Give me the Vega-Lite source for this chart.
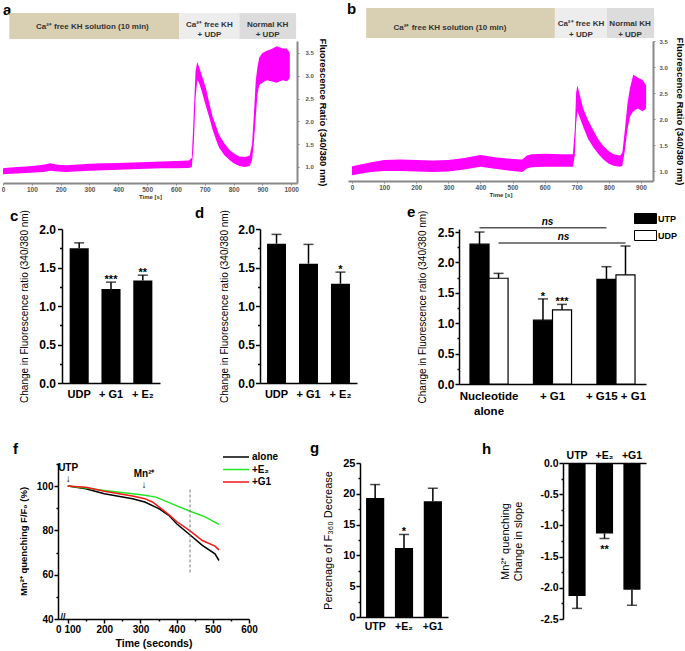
{
"$schema":"https://vega.github.io/schema/vega-lite/v6.json",
"background":"white",
"padding":{"top":2,"left":0,"right":0,"bottom":0},
"spacing":0,
"bounds":"full",
"resolve":{"scale":{"x":"independent","y":"independent","fill":"independent","stroke":"independent","xOffset":"independent"},"legend":{"fill":"independent","stroke":"independent"}},
"config":{"view":{"stroke":null},"font":"Liberation Sans","axis":{"grid":false,"labelFont":"Liberation Sans","titleFont":"Liberation Sans","domainColor":"black","tickColor":"black","labelColor":"black","titleColor":"black"},"legend":{"labelFont":"Liberation Sans"},"title":{"font":"Liberation Sans"}},
"vconcat":[
{"hconcat":[
{"width":3,"height":164,"title":{"text":"a","anchor":"start","frame":"group","orient":"top","offset":11,"dx":3,"baseline":"alphabetic","fontSize":15,"fontWeight":"bold","color":"black"},"data":{"values":[{}]},"mark":{"type":"point","opacity":0,"size":0.01},"encoding":{}},
{"width":294,"height":142,
 "layer":[
  {"data":{"values":[{"seg":"Ca-free","t0":22,"t1":611,"v0":3.807,"v1":4.377},{"seg":"Ca-free UDP","t0":611,"t1":820,"v0":3.807,"v1":4.377},{"seg":"Normal UDP","t0":820,"t1":1017,"v0":3.807,"v1":4.377}]},
   "mark":{"type":"rect"},
   "encoding":{
    "x":{"field":"t0","type":"quantitative","scale":{"domain":[0,1020],"nice":false,"zero":false},"axis":{"values":[0,100,200,300,400,500,600,700,800,900,1000],"tickCount":100,"labelOverlap":false,"format":"d","title":"Time [s]","titleFontSize":6,"titleFontWeight":"bold","titleColor":"#333","titlePadding":1,"labelFontSize":6.5,"labelFontWeight":"bold","labelColor":"#555","labelPadding":1,"labelFlush":false,"tickSize":2,"tickColor":"#888","domainColor":"#888","domainWidth":2}},
    "x2":{"field":"t1"},
    "y":{"field":"v0","type":"quantitative","scale":{"domain":[0.649,3.763],"nice":false,"zero":false},"axis":{"orient":"right","values":[1,1.5,2,2.5,3,3.5],"tickCount":100,"labelOverlap":false,"format":".1f","title":"Fluorescence Ratio (340/380 nm)","titleFontSize":9.5,"titleFontWeight":"bold","titlePadding":4,"labelFontSize":6,"labelFontWeight":"bold","labelColor":"#555","labelPadding":6,"tickSize":2,"tickColor":"#888","domainColor":"#888","domainWidth":2}},
    "y2":{"field":"v1"},
    "fill":{"field":"seg","type":"nominal","scale":{"domain":["Ca-free","Ca-free UDP","Normal UDP"],"range":["#d9cfb3","#ededed","#dcdcdc"]},"legend":null}}},
  {"data":{"values":[{"t":310,"v":4.06,"s":"Ca²⁺ free KH solution (10 min)"},{"t":716,"v":4.12,"s":"Ca²⁺ free KH"},{"t":716,"v":3.89,"s":"+ UDP"},{"t":918,"v":4.12,"s":"Normal KH"},{"t":918,"v":3.89,"s":"+ UDP"}]},
   "mark":{"type":"text","fontSize":8,"fontWeight":"bold","color":"#333","baseline":"middle"},
   "encoding":{"x":{"field":"t","type":"quantitative","scale":{"domain":[0,1020],"nice":false,"zero":false}},"y":{"field":"v","type":"quantitative","scale":{"domain":[0.649,3.763],"nice":false,"zero":false}},"text":{"field":"s"}}},
  {"data":{"values":[{"t":0,"lo":0.84,"hi":0.97},{"t":25,"lo":0.85,"hi":0.99},{"t":50,"lo":0.86,"hi":1.0},{"t":80,"lo":0.87,"hi":1.01},{"t":110,"lo":0.88,"hi":1.03},{"t":140,"lo":0.89,"hi":1.05},{"t":165,"lo":0.92,"hi":1.08},{"t":190,"lo":0.9,"hi":1.05},{"t":220,"lo":0.89,"hi":1.04},{"t":250,"lo":0.9,"hi":1.05},{"t":300,"lo":0.92,"hi":1.07},{"t":350,"lo":0.93,"hi":1.08},{"t":400,"lo":0.94,"hi":1.09},{"t":450,"lo":0.95,"hi":1.1},{"t":500,"lo":0.96,"hi":1.11},{"t":550,"lo":0.97,"hi":1.12},{"t":600,"lo":0.97,"hi":1.13},{"t":645,"lo":0.98,"hi":1.14},{"t":655,"lo":1.0,"hi":1.2},{"t":662,"lo":1.5,"hi":2.2},{"t":668,"lo":2.5,"hi":3.1},{"t":674,"lo":2.9,"hi":3.3},{"t":680,"lo":2.85,"hi":3.2},{"t":690,"lo":2.65,"hi":3.0},{"t":704,"lo":2.33,"hi":2.73},{"t":715,"lo":2.1,"hi":2.42},{"t":727,"lo":1.82,"hi":2.11},{"t":740,"lo":1.58,"hi":1.88},{"t":750,"lo":1.42,"hi":1.7},{"t":768,"lo":1.26,"hi":1.52},{"t":785,"lo":1.16,"hi":1.38},{"t":800,"lo":1.08,"hi":1.3},{"t":820,"lo":1.02,"hi":1.23},{"t":840,"lo":1.0,"hi":1.22},{"t":856,"lo":1.02,"hi":1.25},{"t":864,"lo":1.15,"hi":1.5},{"t":870,"lo":1.5,"hi":2.1},{"t":877,"lo":2.1,"hi":2.9},{"t":883,"lo":2.6,"hi":3.2},{"t":889,"lo":2.8,"hi":3.4},{"t":900,"lo":2.85,"hi":3.5},{"t":915,"lo":2.9,"hi":3.55},{"t":930,"lo":2.88,"hi":3.58},{"t":950,"lo":2.85,"hi":3.65},{"t":970,"lo":2.9,"hi":3.6},{"t":985,"lo":2.88,"hi":3.6},{"t":995,"lo":2.95,"hi":3.5}]},
   "mark":{"type":"area","color":"#ff00ff"},
   "encoding":{"x":{"field":"t","type":"quantitative","scale":{"domain":[0,1020],"nice":false,"zero":false}},"y":{"field":"lo","type":"quantitative","scale":{"domain":[0.649,3.763],"nice":false,"zero":false}},"y2":{"field":"hi"}}}
 ]},
{"width":51,"height":1,"title":{"text":"b","anchor":"start","frame":"group","orient":"top","offset":12,"dx":50,"baseline":"alphabetic","fontSize":15,"fontWeight":"bold","color":"black"},"data":{"values":[{}]},"mark":{"type":"point","opacity":0,"size":0.01},"encoding":{}},
{"width":305,"height":140,
 "layer":[
  {"data":{"values":[{"seg":"Ca-free","t0":44,"t1":632,"v0":3.558,"v1":4.135},{"seg":"Ca-free UDP","t0":632,"t1":794,"v0":3.558,"v1":4.135},{"seg":"Normal UDP","t0":794,"t1":941,"v0":3.558,"v1":4.135}]},
   "mark":{"type":"rect"},
   "encoding":{
    "x":{"field":"t0","type":"quantitative","scale":{"domain":[-12.5,937.5],"nice":false,"zero":false},"axis":{"values":[0,100,200,300,400,500,600,700,800,900],"tickCount":100,"labelOverlap":false,"format":"d","title":"Time [s]","titleFontSize":6,"titleFontWeight":"bold","titleColor":"#333","titlePadding":1,"labelFontSize":6.5,"labelFontWeight":"bold","labelColor":"#555","labelPadding":1,"labelFlush":false,"tickSize":2,"tickColor":"#888","domainColor":"#888","domainWidth":2}},
    "x2":{"field":"t1"},
    "y":{"field":"v0","type":"quantitative","scale":{"domain":[0.808,3.5],"nice":false,"zero":false},"axis":{"orient":"right","values":[1,1.5,2,2.5,3,3.5],"tickCount":100,"labelOverlap":false,"format":".1f","title":"Fluorescence Ratio (340/380 nm)","titleFontSize":9.5,"titleFontWeight":"bold","titlePadding":7,"labelFontSize":6,"labelFontWeight":"bold","labelColor":"#555","labelPadding":4,"tickSize":2,"tickColor":"#888","domainColor":"#888","domainWidth":2}},
    "y2":{"field":"v1"},
    "fill":{"field":"seg","type":"nominal","scale":{"domain":["Ca-free","Ca-free UDP","Normal UDP"],"range":["#d9cfb3","#ededed","#dcdcdc"]},"legend":null}}},
  {"data":{"values":[{"t":305,"v":3.75,"s":"Ca²⁺ free KH solution (10 min)"},{"t":713,"v":3.83,"s":"Ca²⁺ free KH"},{"t":713,"v":3.615,"s":"+ UDP"},{"t":866,"v":3.83,"s":"Normal KH"},{"t":866,"v":3.615,"s":"+ UDP"}]},
   "mark":{"type":"text","fontSize":8,"fontWeight":"bold","color":"#333","baseline":"middle"},
   "encoding":{"x":{"field":"t","type":"quantitative","scale":{"domain":[-12.5,937.5],"nice":false,"zero":false}},"y":{"field":"v","type":"quantitative","scale":{"domain":[0.808,3.5],"nice":false,"zero":false}},"text":{"field":"s"}}},
  {"data":{"values":[{"t":0,"lo":0.92,"hi":1.09},{"t":30,"lo":0.95,"hi":1.13},{"t":60,"lo":0.98,"hi":1.17},{"t":100,"lo":1.0,"hi":1.21},{"t":150,"lo":1.0,"hi":1.22},{"t":200,"lo":0.99,"hi":1.21},{"t":250,"lo":0.98,"hi":1.2},{"t":300,"lo":0.99,"hi":1.21},{"t":350,"lo":1.03,"hi":1.25},{"t":400,"lo":1.08,"hi":1.31},{"t":450,"lo":1.04,"hi":1.26},{"t":500,"lo":1.0,"hi":1.23},{"t":530,"lo":0.98,"hi":1.22},{"t":545,"lo":1.05,"hi":1.3},{"t":560,"lo":1.07,"hi":1.32},{"t":600,"lo":1.08,"hi":1.33},{"t":650,"lo":1.08,"hi":1.32},{"t":688,"lo":1.08,"hi":1.32},{"t":694,"lo":1.3,"hi":1.8},{"t":698,"lo":1.9,"hi":2.5},{"t":702,"lo":2.15,"hi":2.65},{"t":708,"lo":2.05,"hi":2.5},{"t":720,"lo":1.85,"hi":2.2},{"t":735,"lo":1.62,"hi":1.98},{"t":752,"lo":1.45,"hi":1.78},{"t":768,"lo":1.32,"hi":1.6},{"t":783,"lo":1.22,"hi":1.48},{"t":800,"lo":1.14,"hi":1.38},{"t":815,"lo":1.1,"hi":1.32},{"t":835,"lo":1.08,"hi":1.3},{"t":842,"lo":1.1,"hi":1.35},{"t":850,"lo":1.4,"hi":1.8},{"t":858,"lo":1.8,"hi":2.3},{"t":866,"lo":2.05,"hi":2.6},{"t":876,"lo":2.15,"hi":2.85},{"t":890,"lo":2.2,"hi":2.8},{"t":905,"lo":2.15,"hi":2.75},{"t":916,"lo":2.2,"hi":2.65}]},
   "mark":{"type":"area","color":"#ff00ff"},
   "encoding":{"x":{"field":"t","type":"quantitative","scale":{"domain":[-12.5,937.5],"nice":false,"zero":false}},"y":{"field":"lo","type":"quantitative","scale":{"domain":[0.808,3.5],"nice":false,"zero":false}},"y2":{"field":"hi"}}}
 ]}
],"spacing":0,"bounds":"flush"},

{"hconcat":[
{"width":62,"height":212,"title":{"text":"c","anchor":"start","frame":"group","orient":"top","offset":-7,"dx":10,"baseline":"alphabetic","fontSize":15,"fontWeight":"bold","color":"black"},"data":{"values":[{}]},"mark":{"type":"point","opacity":0,"size":0.01},"encoding":{}},
{"width":98,"height":154,
 "data":{"values":[{"k":"UDP","v":1.75,"hi":1.82,"sig":""},{"k":"+ G1","v":1.22,"hi":1.31,"sig":"***"},{"k":"+ E₂","v":1.33,"hi":1.40,"sig":"**"}]},
 "encoding":{"x":{"field":"k","type":"nominal","sort":null,"scale":{"paddingInner":0.4,"paddingOuter":0.24},"axis":{"title":null,"labelAngle":0,"labelFontSize":11,"labelFontWeight":"bold","labelPadding":5,"ticks":false,"tickSize":0,"domainWidth":1.5}}},
 "layer":[
  {"mark":{"type":"bar","color":"black"},"encoding":{"y":{"field":"v","type":"quantitative","scale":{"domain":[0,2],"nice":false},"axis":{"values":[0,0.25,0.5,0.75,1,1.25,1.5,1.75,2],"tickCount":100,"labelOverlap":false,"labelExpr":"datum.value*2 == round(datum.value*2) ? format(datum.value, '.1f') : ''","tickSize":{"condition":{"test":"datum.value*2 != round(datum.value*2)","value":2.5},"value":4.5},"tickWidth":1.5,"domainWidth":1.5,"labelFontSize":12,"labelFontWeight":"bold","labelPadding":2,"title":"Change in Fluorescence ratio (340/380 nm)","titleFontSize":10,"titleFontWeight":"normal","titlePadding":9}}}},
  {"mark":{"type":"rule","color":"black","strokeWidth":1.5},"encoding":{"y":{"field":"v","type":"quantitative"},"y2":{"field":"hi"}}},
  {"mark":{"type":"tick","orient":"horizontal","size":10,"thickness":1.5,"color":"black"},"encoding":{"y":{"field":"hi","type":"quantitative"}}},
  {"mark":{"type":"text","fontSize":11,"fontWeight":"bold","baseline":"alphabetic","dy":1},"encoding":{"y":{"field":"hi","type":"quantitative"},"text":{"field":"sig"}}}
 ]},
{"width":100,"height":1,"title":{"text":"d","anchor":"start","frame":"group","orient":"top","offset":-4,"dx":35,"baseline":"alphabetic","fontSize":15,"fontWeight":"bold","color":"black"},"data":{"values":[{}]},"mark":{"type":"point","opacity":0,"size":0.01},"encoding":{}},
{"width":97,"height":154,
 "data":{"values":[{"k":"UDP","v":1.81,"hi":1.93,"sig":""},{"k":"+ G1","v":1.55,"hi":1.80,"sig":""},{"k":"+ E₂","v":1.29,"hi":1.44,"sig":"*"}]},
 "encoding":{"x":{"field":"k","type":"nominal","sort":null,"scale":{"paddingInner":0.406,"paddingOuter":0.22},"axis":{"title":null,"labelAngle":0,"labelFontSize":11,"labelFontWeight":"bold","labelPadding":5,"ticks":false,"tickSize":0,"domainWidth":1.5}}},
 "layer":[
  {"mark":{"type":"bar","color":"black"},"encoding":{"y":{"field":"v","type":"quantitative","scale":{"domain":[0,2],"nice":false},"axis":{"values":[0,0.25,0.5,0.75,1,1.25,1.5,1.75,2],"tickCount":100,"labelOverlap":false,"labelExpr":"datum.value*2 == round(datum.value*2) ? format(datum.value, '.1f') : ''","tickSize":{"condition":{"test":"datum.value*2 != round(datum.value*2)","value":2.5},"value":4.5},"tickWidth":1.5,"domainWidth":1.5,"labelFontSize":12,"labelFontWeight":"bold","labelPadding":1,"title":"Change in Fluorescence ratio (340/380 nm)","titleFontSize":10,"titleFontWeight":"normal","titlePadding":8}}}},
  {"mark":{"type":"rule","color":"black","strokeWidth":1.5},"encoding":{"y":{"field":"v","type":"quantitative"},"y2":{"field":"hi"}}},
  {"mark":{"type":"tick","orient":"horizontal","size":10,"thickness":1.5,"color":"black"},"encoding":{"y":{"field":"hi","type":"quantitative"}}},
  {"mark":{"type":"text","fontSize":11,"fontWeight":"bold","baseline":"alphabetic","dy":1},"encoding":{"y":{"field":"hi","type":"quantitative"},"text":{"field":"sig"}}}
 ]},
{"width":102,"height":1,"title":{"text":"e","anchor":"start","frame":"group","orient":"top","offset":-3,"dx":50,"baseline":"alphabetic","fontSize":15,"fontWeight":"bold","color":"black"},"data":{"values":[{}]},"mark":{"type":"point","opacity":0,"size":0.01},"encoding":{}},
{"width":187,"height":155,
 "layer":[
  {"data":{"values":[{"grp":"Nucleotide alone","s":"UTP","v":2.30,"hi":2.50},{"grp":"Nucleotide alone","s":"UDP","v":1.74,"hi":1.82},{"grp":"+ G1","s":"UTP","v":1.05,"hi":1.40},{"grp":"+ G1","s":"UDP","v":1.22,"hi":1.31},{"grp":"+ G15 + G1","s":"UTP","v":1.72,"hi":1.93},{"grp":"+ G15 + G1","s":"UDP","v":1.795,"hi":2.27}]},
   "mark":{"type":"bar","stroke":"black","strokeWidth":1.2},
   "encoding":{
    "x":{"field":"grp","type":"nominal","scale":{"domain":["Nucleotide alone","+ G1","+ G15 + G1"],"paddingInner":0.4,"paddingOuter":0.173},"axis":{"title":null,"labelAngle":0,"labelFontSize":11.5,"labelFontWeight":"bold","labelPadding":6,"labelLineHeight":15,"ticks":false,"tickSize":0,"domainWidth":1.5,"labelExpr":"datum.value == 'Nucleotide alone' ? ['Nucleotide', 'alone'] : datum.label"}},
    "xOffset":{"field":"s","type":"nominal","scale":{"domain":["UTP","UDP"],"paddingInner":0,"paddingOuter":0}},
    "y":{"field":"v","type":"quantitative","scale":{"domain":[0,2.55],"nice":false},"axis":{"values":[0,0.25,0.5,0.75,1,1.25,1.5,1.75,2,2.25,2.5],"tickCount":100,"labelOverlap":false,"labelExpr":"datum.value*2 == round(datum.value*2) ? format(datum.value, '.1f') : ''","tickSize":{"condition":{"test":"datum.value*2 != round(datum.value*2)","value":2},"value":4},"tickWidth":1.5,"domainWidth":1.5,"labelFontSize":12,"labelFontWeight":"bold","labelPadding":1,"title":"Change in Fluorescence ratio (340/380 nm)","titleFontSize":10,"titleFontWeight":"normal","titlePadding":10}},
    "fill":{"field":"s","type":"nominal","scale":{"domain":["UTP","UDP"],"range":["black","white"]},"legend":{"orient":"none","legendX":634,"legendY":-16,"title":null,"symbolType":"M-1,-1H3.4V1H-1Z","symbolSize":100,"symbolStrokeColor":"black","symbolStrokeWidth":1,"labelFontSize":9,"labelFontWeight":"bold","labelOffset":13,"rowPadding":2,"padding":0}}}},
  {"data":{"values":[{"grp":"Nucleotide alone","s":"UTP","v":2.30,"hi":2.50},{"grp":"Nucleotide alone","s":"UDP","v":1.74,"hi":1.82},{"grp":"+ G1","s":"UTP","v":1.05,"hi":1.40},{"grp":"+ G1","s":"UDP","v":1.22,"hi":1.31},{"grp":"+ G15 + G1","s":"UTP","v":1.72,"hi":1.93},{"grp":"+ G15 + G1","s":"UDP","v":1.795,"hi":2.27}]},
   "mark":{"type":"rule","color":"black","strokeWidth":1.5},
   "encoding":{"x":{"field":"grp","type":"nominal"},"xOffset":{"field":"s","type":"nominal"},"y":{"field":"v","type":"quantitative"},"y2":{"field":"hi"}}},
  {"data":{"values":[{"grp":"Nucleotide alone","s":"UTP","hi":2.50},{"grp":"Nucleotide alone","s":"UDP","hi":1.82},{"grp":"+ G1","s":"UTP","hi":1.40},{"grp":"+ G1","s":"UDP","hi":1.31},{"grp":"+ G15 + G1","s":"UTP","hi":1.93},{"grp":"+ G15 + G1","s":"UDP","hi":2.27}]},
   "mark":{"type":"tick","orient":"horizontal","size":10,"thickness":1.5,"color":"black"},
   "encoding":{"x":{"field":"grp","type":"nominal"},"xOffset":{"field":"s","type":"nominal"},"y":{"field":"hi","type":"quantitative"}}},
  {"data":{"values":[{"grp":"+ G1","s":"UTP","hi":1.40,"sig":"*"},{"grp":"+ G1","s":"UDP","hi":1.31,"sig":"***"}]},
   "mark":{"type":"text","fontSize":11,"fontWeight":"bold","baseline":"alphabetic","dy":1},
   "encoding":{"x":{"field":"grp","type":"nominal"},"xOffset":{"field":"s","type":"nominal"},"y":{"field":"hi","type":"quantitative"},"text":{"field":"sig"}}},
  {"data":{"values":[{"from":"Nucleotide alone","to":"+ G15 + G1","lev":2.57}]},
   "mark":{"type":"rule","color":"#555","strokeWidth":1.5,"xOffset":-9.5,"x2Offset":-9.5},
   "encoding":{"x":{"field":"from","type":"nominal"},"x2":{"field":"to"},"y":{"field":"lev","type":"quantitative"}}},
  {"data":{"values":[{"from":"Nucleotide alone","to":"+ G15 + G1","lev":2.32}]},
   "mark":{"type":"rule","color":"#555","strokeWidth":1.5,"xOffset":9.5,"x2Offset":9.5},
   "encoding":{"x":{"field":"from","type":"nominal"},"x2":{"field":"to"},"y":{"field":"lev","type":"quantitative"}}},
  {"data":{"values":[{"grp":"+ G1","lev":2.57,"s":"ns"}]},
   "mark":{"type":"text","fontSize":10,"fontWeight":"bold","fontStyle":"italic","baseline":"bottom","dx":-5,"dy":-1},
   "encoding":{"x":{"field":"grp","type":"nominal"},"y":{"field":"lev","type":"quantitative"},"text":{"field":"s"}}},
  {"data":{"values":[{"grp":"+ G1","lev":2.32,"s":"ns"}]},
   "mark":{"type":"text","fontSize":10,"fontWeight":"bold","fontStyle":"italic","baseline":"bottom","dx":11,"dy":-1},
   "encoding":{"x":{"field":"grp","type":"nominal"},"y":{"field":"lev","type":"quantitative"},"text":{"field":"s"}}}
 ]}
],"spacing":0,"bounds":"flush"},

{"hconcat":[
{"width":58,"height":1,"title":{"text":"f","anchor":"start","frame":"group","orient":"top","offset":-6,"dx":13,"baseline":"alphabetic","fontSize":15,"fontWeight":"bold","color":"black"},"data":{"values":[{}]},"mark":{"type":"point","opacity":0,"size":0.01},"encoding":{}},
{"width":191,"height":156,
 "layer":[
  {"data":{"values":[
   {"cond":"alone","t":99,"v":100},{"cond":"alone","t":149,"v":98.8},{"cond":"alone","t":200,"v":96.5},{"cond":"alone","t":278,"v":94.3},{"cond":"alone","t":312,"v":92.8},{"cond":"alone","t":352,"v":89.7},{"cond":"alone","t":379,"v":86.7},{"cond":"alone","t":400,"v":83},{"cond":"alone","t":439,"v":77.7},{"cond":"alone","t":471,"v":73.2},{"cond":"alone","t":506,"v":69.4},{"cond":"alone","t":517,"v":66.4},
   {"cond":"+E₂","t":99,"v":100},{"cond":"+E₂","t":149,"v":99.1},{"cond":"+E₂","t":200,"v":98},{"cond":"+E₂","t":278,"v":96.5},{"cond":"+E₂","t":312,"v":95.8},{"cond":"+E₂","t":343,"v":95},{"cond":"+E₂","t":379,"v":92.5},{"cond":"+E₂","t":439,"v":88.5},{"cond":"+E₂","t":480,"v":86},{"cond":"+E₂","t":517,"v":82.7},
   {"cond":"+G1","t":99,"v":100},{"cond":"+G1","t":149,"v":99.5},{"cond":"+G1","t":200,"v":97.7},{"cond":"+G1","t":278,"v":95.5},{"cond":"+G1","t":312,"v":94.3},{"cond":"+G1","t":333,"v":92.8},{"cond":"+G1","t":352,"v":90.5},{"cond":"+G1","t":379,"v":87},{"cond":"+G1","t":400,"v":84},{"cond":"+G1","t":439,"v":79.5},{"cond":"+G1","t":471,"v":75.4},{"cond":"+G1","t":506,"v":72.9},{"cond":"+G1","t":517,"v":71.2}]},
   "mark":{"type":"line","strokeWidth":1.5},
   "encoding":{
    "x":{"field":"t","type":"quantitative","scale":{"domain":[72,600],"nice":false,"zero":false},"axis":{"values":[100,150,200,250,300,350,400,450,500,550,600],"tickCount":100,"labelOverlap":false,"labelExpr":"datum.value % 100 == 0 ? (datum.value == 100 ? '0 100' : format(datum.value, 'd')) : ''","tickSize":{"condition":{"test":"datum.value % 100 != 0","value":2},"value":4},"tickWidth":1.5,"domainWidth":1.5,"labelFontSize":10,"labelFontWeight":"bold","labelPadding":1,"labelFlush":false,"title":"Time (seconds)","titleFontSize":10.5,"titleFontWeight":"bold","titlePadding":4}},
    "y":{"field":"v","type":"quantitative","scale":{"domain":[40,110.4],"nice":false,"zero":false},"axis":{"values":[40,50,60,70,80,90,100,110],"tickCount":100,"labelOverlap":false,"labelExpr":"datum.value % 20 == 0 ? format(datum.value, 'd') : ''","tickSize":{"condition":{"test":"datum.value % 20 != 0","value":2},"value":4},"tickWidth":1.5,"domainWidth":1.5,"labelFontSize":10,"labelFontWeight":"bold","labelPadding":1,"title":"Mn²⁺ quenching F/F₀ (%)","titleFontSize":9.5,"titleFontWeight":"bold","titlePadding":8}},
    "stroke":{"field":"cond","type":"nominal","scale":{"domain":["alone","+E₂","+G1"],"range":["black","#22e622","#f01818"]},"legend":{"orient":"none","legendX":222,"legendY":-12,"title":null,"symbolType":"M-1,0H4.2","symbolSize":100,"symbolStrokeWidth":1.5,"labelFontSize":10,"labelFontWeight":"bold","labelOffset":18,"rowPadding":1.5,"padding":0}}}},
  {"data":{"values":[{"t":437,"v0":61,"v1":99}]},
   "mark":{"type":"rule","strokeDash":[3,2],"color":"#777","strokeWidth":1},
   "encoding":{"x":{"field":"t","type":"quantitative"},"y":{"field":"v0","type":"quantitative"},"y2":{"field":"v1"}}},
  {"data":{"values":[{"t":100,"v":108.2,"s":"UTP"},{"t":310,"v":105.4,"s":"Mn²⁺"}]},
   "mark":{"type":"text","fontSize":10,"fontWeight":"bold","baseline":"middle"},
   "encoding":{"x":{"field":"t","type":"quantitative"},"y":{"field":"v","type":"quantitative"},"text":{"field":"s"}}},
  {"data":{"values":[{"t":100,"v":103.4,"s":"↓"},{"t":310,"v":100.3,"s":"↓"}]},
   "mark":{"type":"text","fontSize":10,"baseline":"middle"},
   "encoding":{"x":{"field":"t","type":"quantitative"},"y":{"field":"v","type":"quantitative"},"text":{"field":"s"}}},
  {"data":{"values":[{"t":86,"v":41,"s":"//"}]},
   "mark":{"type":"text","fontSize":9,"fontWeight":"bold","baseline":"middle"},
   "encoding":{"x":{"field":"t","type":"quantitative"},"y":{"field":"v","type":"quantitative"},"text":{"field":"s"}}}
 ]},
{"width":111,"height":1,"title":{"text":"g","anchor":"start","frame":"group","orient":"top","offset":-5,"dx":61,"baseline":"alphabetic","fontSize":15,"fontWeight":"bold","color":"black"},"data":{"values":[{}]},"mark":{"type":"point","opacity":0,"size":0.01},"encoding":{}},
{"width":88,"height":154,
 "data":{"values":[{"k":"UTP","v":19.3,"hi":21.5,"sig":""},{"k":"+E₂","v":11.2,"hi":13.4,"sig":"*"},{"k":"+G1","v":18.8,"hi":20.9,"sig":""}]},
 "encoding":{"x":{"field":"k","type":"nominal","sort":null,"scale":{"paddingInner":0.37,"paddingOuter":0.21},"axis":{"title":null,"labelAngle":0,"labelFontSize":10.5,"labelFontWeight":"bold","labelPadding":4,"ticks":false,"tickSize":0,"domainWidth":1.5}}},
 "layer":[
  {"mark":{"type":"bar","color":"black"},"encoding":{"y":{"field":"v","type":"quantitative","scale":{"domain":[0,25],"nice":false},"axis":{"values":[0,2.5,5,7.5,10,12.5,15,17.5,20,22.5,25],"tickCount":100,"labelOverlap":false,"labelExpr":"datum.value % 5 == 0 ? format(datum.value, 'd') : ''","tickSize":{"condition":{"test":"datum.value % 5 != 0","value":2},"value":4},"tickWidth":1.5,"domainWidth":1.5,"labelFontSize":11,"labelFontWeight":"bold","labelPadding":1,"title":"Percenage of F₃₆₀ Decrease","titleFontSize":11,"titleFontWeight":"normal","titlePadding":9}}}},
  {"mark":{"type":"rule","color":"black","strokeWidth":1.5},"encoding":{"y":{"field":"v","type":"quantitative"},"y2":{"field":"hi"}}},
  {"mark":{"type":"tick","orient":"horizontal","size":10,"thickness":1.5,"color":"black"},"encoding":{"y":{"field":"hi","type":"quantitative"}}},
  {"mark":{"type":"text","fontSize":11,"fontWeight":"bold","baseline":"alphabetic","dy":1},"encoding":{"y":{"field":"hi","type":"quantitative"},"text":{"field":"sig"}}}
 ]},
{"width":115,"height":1,"title":{"text":"h","anchor":"start","frame":"group","orient":"top","offset":-6,"dx":34,"baseline":"alphabetic","fontSize":15,"fontWeight":"bold","color":"black"},"data":{"values":[{}]},"mark":{"type":"point","opacity":0,"size":0.01},"encoding":{}},
{"width":83,"height":156,
 "data":{"values":[{"k":"UTP","v":-2.13,"lo":-2.33,"sig":""},{"k":"+E₂","v":-1.13,"lo":-1.21,"sig":"**"},{"k":"+G1","v":-2.03,"lo":-2.28,"sig":""}]},
 "encoding":{"x":{"field":"k","type":"nominal","sort":null,"scale":{"paddingInner":0.376,"paddingOuter":0.2},"axis":{"orient":"top","title":null,"labelAngle":0,"labelFontSize":10.5,"labelFontWeight":"bold","labelPadding":3,"ticks":false,"tickSize":0,"domainWidth":1.5}}},
 "layer":[
  {"mark":{"type":"bar","color":"black"},"encoding":{"y":{"field":"v","type":"quantitative","scale":{"domain":[-2.5,0],"nice":false},"axis":{"values":[-2.5,-2.25,-2,-1.75,-1.5,-1.25,-1,-0.75,-0.5,-0.25,0],"tickCount":100,"labelOverlap":false,"labelExpr":"datum.value*2 == round(datum.value*2) ? replace(format(datum.value, '.1f'), '−', '-') : ''","tickSize":{"condition":{"test":"datum.value*2 != round(datum.value*2)","value":2},"value":4},"tickWidth":1.5,"domainWidth":1.5,"labelFontSize":10.5,"labelFontWeight":"bold","labelPadding":1,"title":["Mn²⁺ quenching","Change in slope"],"titleFontSize":11,"titleFontWeight":"normal","titlePadding":16}}}},
  {"mark":{"type":"rule","color":"black","strokeWidth":1.5},"encoding":{"y":{"field":"v","type":"quantitative"},"y2":{"field":"lo"}}},
  {"mark":{"type":"tick","orient":"horizontal","size":10,"thickness":1.5,"color":"black"},"encoding":{"y":{"field":"lo","type":"quantitative"}}},
  {"mark":{"type":"text","fontSize":11,"fontWeight":"bold","baseline":"alphabetic","dy":14},"encoding":{"y":{"field":"lo","type":"quantitative"},"text":{"field":"sig"}}}
 ]}
],"spacing":0,"bounds":"flush"}
]
}
